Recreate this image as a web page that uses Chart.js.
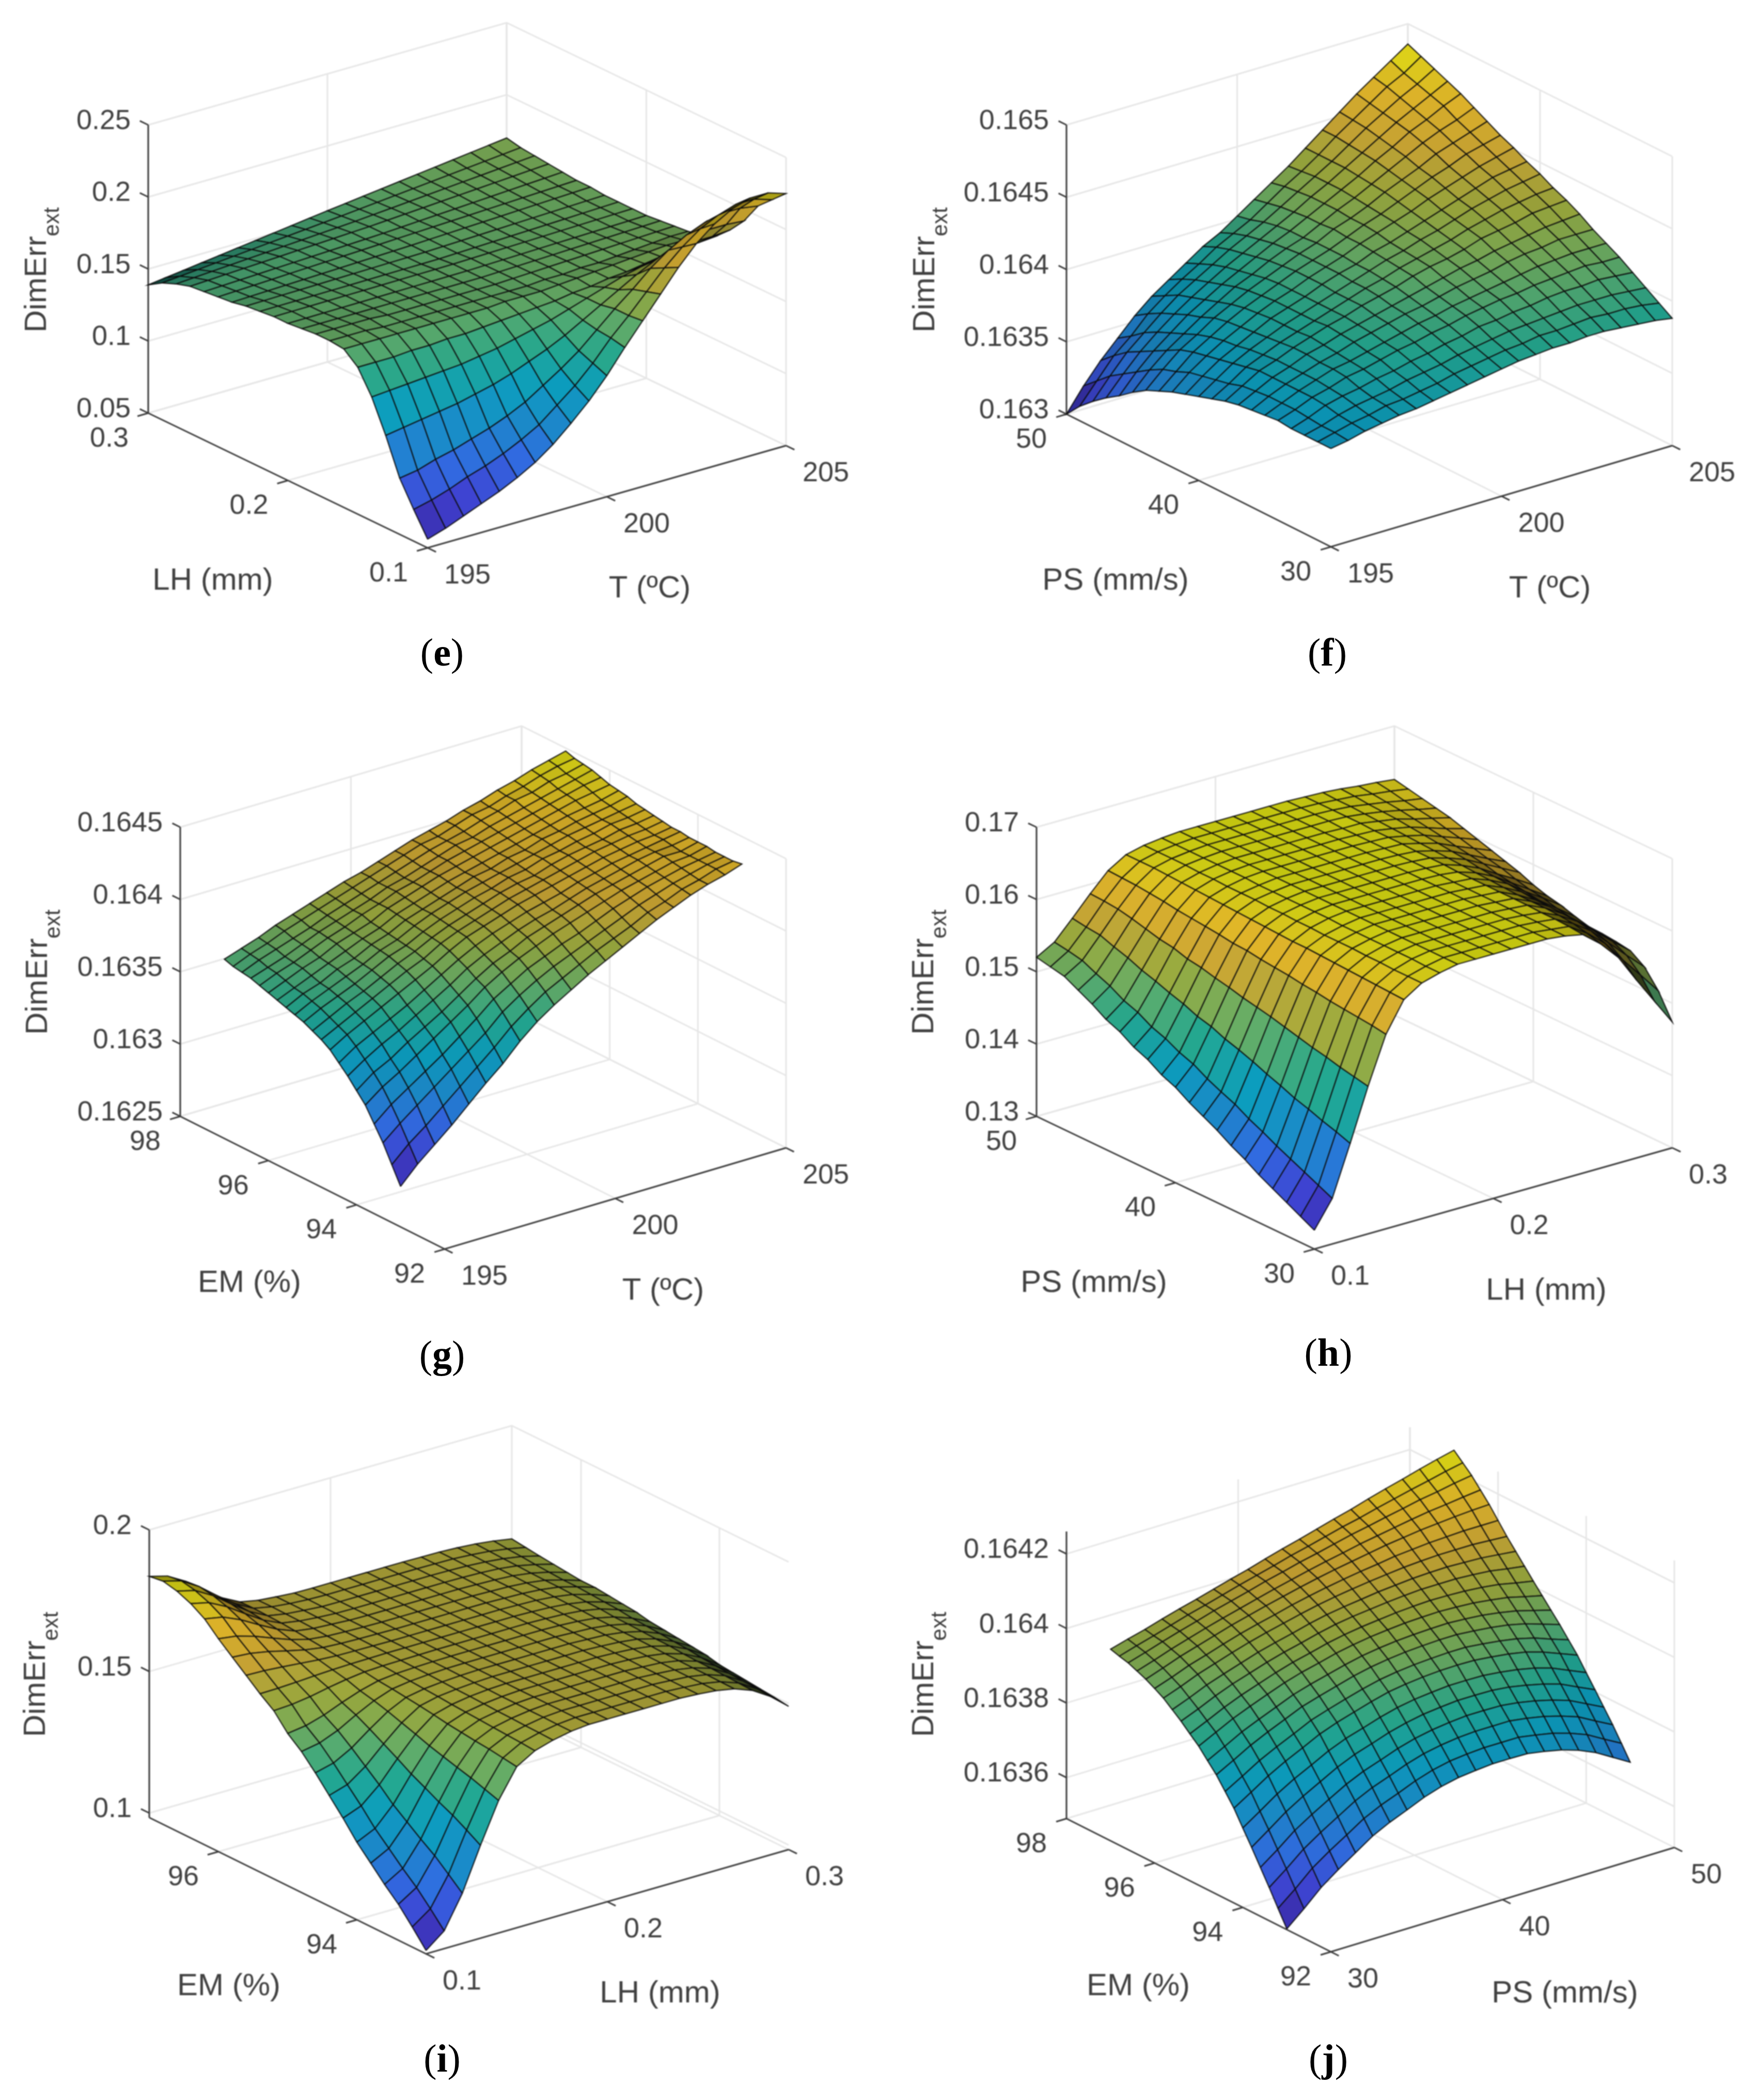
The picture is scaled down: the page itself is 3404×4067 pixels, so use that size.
<!DOCTYPE html>
<html>
<head>
<meta charset="utf-8">
<script src="https://cdn.jsdelivr.net/npm/chart.js@4"></script>
<style>
  body { margin: 0; background: #fff; }
  #page { position: relative; width: 3404px; height: 4067px; overflow: hidden; }
  canvas { position: absolute; filter: blur(0.8px); }
  .cap { position: absolute; font: 76px "Liberation Serif", serif; color: #000; transform: translate(-50%, -50%); }
</style>
</head>
<body>
<div id="page"></div>
<script>
const tempGrid = [195,195.5,196,196.5,197,197.5,198,198.5,199,199.5,200,200.5,201,201.5,202,202.5,203,203.5,204,204.5,205];
const lhGrid = [.10,.11,.12,.13,.14,.15,.16,.17,.18,.19,.20,.21,.22,.23,.24,.25,.26,.27,.28,.29,.30];
const psGrid = [30,31,32,33,34,35,36,37,38,39,40,41,42,43,44,45,46,47,48,49,50];
const emGrid = [93,93.2,93.4,93.6,93.8,94,94.2,94.4,94.6,94.8,95,95.2,95.4,95.6,95.8,96,96.2,96.4,96.6,96.8,97];

// z values, one row per y-axis value
const surfE = [
[.056,.060,.065,.070,.075,.081,.088,.097,.108,.120,.134,.150,.165,.180,.195,.208,.218,.225,.229,.229,.225],
[.072,.075,.079,.084,.088,.093,.099,.106,.116,.126,.138,.152,.164,.177,.190,.201,.210,.216,.220,.220,.216],
[.089,.091,.095,.098,.102,.106,.111,.117,.125,.133,.142,.153,.164,.174,.185,.194,.201,.206,.209,.209,.207],
[.114,.116,.118,.120,.122,.125,.128,.132,.137,.142,.148,.155,.162,.169,.176,.182,.187,.191,.193,.193,.192],
[.136,.137,.138,.139,.140,.141,.143,.145,.148,.151,.154,.158,.162,.166,.170,.173,.176,.178,.180,.180,.181],
[.152,.152,.152,.153,.153,.154,.154,.155,.156,.157,.158,.159,.161,.162,.164,.165,.167,.168,.170,.171,.172],
[.160,.160,.160,.160,.160,.160,.160,.160,.160,.161,.161,.161,.162,.163,.164,.165,.166,.167,.168,.168,.168],
[.161,.161,.161,.160,.160,.160,.160,.160,.160,.160,.160,.160,.161,.161,.162,.162,.163,.164,.165,.166,.166],
[.161,.161,.161,.161,.160,.160,.160,.160,.160,.160,.160,.1605,.161,.1615,.162,.1625,.163,.1635,.164,.1645,.165],
[.160,.160,.160,.160,.160,.160,.160,.160,.160,.160,.160,.1604,.1608,.1612,.1616,.162,.1624,.1628,.1632,.1636,.164],
[.159,.1591,.1592,.1593,.1594,.1595,.1596,.1597,.1598,.1599,.160,.1603,.1606,.1609,.1612,.1615,.1618,.1621,.1624,.1627,.163],
[.159,.1591,.1592,.1593,.1594,.1595,.1596,.1597,.1598,.1599,.160,.1603,.1606,.1609,.1612,.1615,.1618,.1621,.1624,.1627,.163],
[.158,.1581,.1582,.1583,.1584,.1585,.1586,.1587,.1588,.1589,.159,.1594,.1598,.1602,.1606,.161,.1614,.1618,.1622,.1626,.163],
[.157,.1572,.1574,.1576,.1578,.158,.1582,.1584,.1586,.1588,.159,.1594,.1598,.1602,.1606,.161,.1614,.1618,.1622,.1626,.163],
[.155,.1554,.1558,.1562,.1566,.157,.1574,.1578,.1582,.1586,.159,.1595,.16,.1605,.161,.1615,.162,.1625,.163,.1635,.164],
[.154,.1545,.155,.1555,.156,.1565,.157,.1575,.158,.1585,.159,.1595,.16,.1605,.161,.1615,.162,.1625,.163,.1635,.164],
[.153,.1535,.154,.1545,.155,.1555,.156,.1565,.157,.1575,.158,.1587,.1594,.1601,.1608,.1615,.1622,.1629,.1636,.1643,.165],
[.152,.1526,.1532,.1538,.1544,.155,.1556,.1562,.1568,.1574,.158,.1588,.1596,.1604,.1612,.162,.1628,.1636,.1644,.1652,.166],
[.149,.1498,.1506,.1514,.1522,.153,.1538,.1546,.1554,.1562,.157,.158,.159,.16,.161,.162,.163,.164,.165,.166,.167],
[.145,.1461,.1472,.1483,.1494,.1505,.1516,.1527,.1538,.1549,.156,.1572,.1584,.1596,.1608,.162,.1632,.1644,.1656,.1668,.168],
[.139,.1406,.1422,.1438,.1454,.147,.1486,.1502,.1518,.1534,.155,.1565,.158,.1595,.161,.1625,.164,.1655,.167,.1685,.170]
];
const surfF = [
[.16368,.16370,.16373,.16375,.16377,.16378,.16380,.16382,.16384,.16386,.16388,.16390,.16391,.16392,.16392,.16393,.16393,.16392,.16391,.16390,.16388],
[.16368,.16371,.16374,.16376,.16379,.16380,.16382,.16384,.16387,.16389,.16391,.16393,.16394,.16396,.16396,.16397,.16398,.16397,.16397,.16396,.16394],
[.16368,.16371,.16375,.16378,.16380,.16382,.16385,.16387,.16389,.16392,.16394,.16396,.16398,.16399,.16400,.16401,.16402,.16402,.16402,.16401,.16400],
[.16368,.16372,.16377,.16380,.16382,.16385,.16387,.16390,.16392,.16395,.16397,.16400,.16401,.16403,.16404,.16406,.16407,.16407,.16408,.16407,.16406],
[.16369,.16373,.16378,.16381,.16385,.16387,.16390,.16393,.16395,.16398,.16400,.16403,.16405,.16407,.16408,.16410,.16411,.16412,.16413,.16412,.16412],
[.16368,.16373,.16378,.16382,.16386,.16388,.16391,.16394,.16397,.16400,.16402,.16405,.16407,.16409,.16411,.16413,.16415,.16416,.16417,.16417,.16417],
[.16367,.16373,.16378,.16382,.16386,.16389,.16393,.16396,.16399,.16402,.16404,.16407,.16410,.16412,.16414,.16417,.16419,.16420,.16422,.16422,.16422],
[.16366,.16372,.16378,.16382,.16387,.16390,.16394,.16397,.16400,.16403,.16406,.16409,.16412,.16415,.16417,.16420,.16422,.16424,.16426,.16427,.16428],
[.16364,.16371,.16378,.16382,.16387,.16391,.16395,.16398,.16402,.16405,.16408,.16412,.16415,.16417,.16420,.16424,.16426,.16428,.16431,.16432,.16433],
[.16361,.16368,.16376,.16381,.16386,.16390,.16394,.16398,.16402,.16406,.16409,.16413,.16416,.16419,.16422,.16426,.16429,.16432,.16434,.16436,.16437],
[.16358,.16366,.16374,.16380,.16385,.16390,.16394,.16398,.16402,.16406,.16410,.16414,.16417,.16421,.16424,.16428,.16432,.16435,.16438,.16440,.16442],
[.16355,.16364,.16372,.16378,.16384,.16390,.16394,.16398,.16403,.16407,.16410,.16415,.16418,.16422,.16426,.16430,.16434,.16438,.16442,.16444,.16446],
[.16352,.16362,.16370,.16377,.16383,.16389,.16394,.16398,.16403,.16407,.16411,.16416,.16420,.16424,.16428,.16433,.16437,.16441,.16445,.16448,.16451],
[.16348,.16358,.16368,.16375,.16382,.16388,.16393,.16398,.16403,.16407,.16411,.16416,.16421,.16425,.16430,.16435,.16440,.16444,.16449,.16452,.16455],
[.16344,.16355,.16365,.16372,.16380,.16386,.16392,.16397,.16402,.16407,.16411,.16417,.16421,.16426,.16432,.16437,.16442,.16448,.16452,.16456,.16460],
[.16338,.16350,.16360,.16368,.16376,.16383,.16390,.16395,.16401,.16406,.16410,.16416,.16422,.16427,.16433,.16439,.16445,.16451,.16456,.16460,.16465],
[.16331,.16344,.16355,.16364,.16373,.16380,.16387,.16393,.16399,.16405,.16410,.16416,.16422,.16428,.16434,.16441,.16447,.16454,.16459,.16465,.16470],
[.16325,.16338,.16350,.16360,.16369,.16377,.16384,.16391,.16397,.16403,.16409,.16415,.16422,.16428,.16435,.16442,.16449,.16456,.16462,.16468,.16474],
[.16318,.16332,.16345,.16355,.16365,.16374,.16381,.16388,.16395,.16401,.16407,.16414,.16421,.16428,.16435,.16443,.16451,.16458,.16465,.16471,.16478],
[.16310,.16324,.16338,.16348,.16360,.16369,.16377,.16384,.16392,.16398,.16404,.16412,.16420,.16427,.16435,.16444,.16452,.16460,.16468,.16474,.16482],
[.16300,.16316,.16330,.16342,.16354,.16364,.16372,.16380,.16388,.16394,.16402,.16410,.16418,.16426,.16435,.16444,.16453,.16462,.16470,.16478,.16486]
];
const surfG = [
[.16278,.16290,.16300,.16310,.16321,.16332,.16342,.16354,.16364,.16372,.16379,.16386,.16392,.16398,.16404,.16410,.16415,.16420,.16424,.16427,.16431],
[.16290,.16301,.16310,.16320,.16330,.16340,.16350,.16361,.16370,.16378,.16384,.16390,.16396,.16401,.16406,.16412,.16416,.16421,.16424,.16428,.16430],
[.16302,.16312,.16321,.16330,.16339,.16348,.16357,.16368,.16376,.16383,.16389,.16394,.16399,.16404,.16409,.16414,.16418,.16422,.16425,.16428,.16430],
[.16312,.16322,.16330,.16338,.16346,.16355,.16364,.16374,.16381,.16388,.16393,.16398,.16402,.16407,.16412,.16416,.16420,.16423,.16426,.16428,.16430],
[.16322,.16331,.16338,.16346,.16354,.16362,.16370,.16379,.16386,.16392,.16397,.16402,.16406,.16410,.16414,.16418,.16421,.16424,.16427,.16428,.16431],
[.16329,.16338,.16344,.16352,.16359,.16366,.16374,.16382,.16389,.16394,.16400,.16404,.16408,.16412,.16416,.16419,.16422,.16425,.16428,.16428,.16431],
[.16336,.16344,.16351,.16357,.16364,.16371,.16378,.16386,.16392,.16397,.16402,.16406,.16409,.16413,.16417,.16420,.16423,.16426,.16428,.16429,.16431],
[.16342,.16350,.16356,.16362,.16368,.16375,.16382,.16389,.16395,.16400,.16404,.16408,.16411,.16414,.16418,.16421,.16424,.16426,.16428,.16430,.16432],
[.16348,.16355,.16361,.16367,.16373,.16379,.16385,.16392,.16398,.16402,.16406,.16410,.16413,.16416,.16419,.16422,.16425,.16427,.16429,.16430,.16432],
[.16352,.16358,.16364,.16370,.16376,.16382,.16387,.16394,.16399,.16403,.16407,.16411,.16414,.16417,.16420,.16423,.16426,.16428,.16430,.16431,.16433],
[.16355,.16361,.16367,.16372,.16378,.16384,.16389,.16395,.16400,.16404,.16408,.16412,.16415,.16417,.16421,.16424,.16426,.16428,.16431,.16432,.16434],
[.16358,.16364,.16369,.16374,.16380,.16386,.16390,.16396,.16401,.16405,.16409,.16412,.16416,.16418,.16422,.16424,.16427,.16429,.16432,.16433,.16435],
[.16360,.16366,.16371,.16376,.16381,.16387,.16391,.16397,.16402,.16406,.16410,.16413,.16416,.16419,.16422,.16425,.16428,.16430,.16432,.16434,.16436],
[.16362,.16368,.16372,.16378,.16382,.16388,.16392,.16398,.16402,.16406,.16410,.16414,.16416,.16420,.16422,.16426,.16428,.16431,.16433,.16435,.16438],
[.16364,.16369,.16374,.16379,.16384,.16389,.16393,.16399,.16403,.16407,.16411,.16414,.16417,.16420,.16423,.16426,.16429,.16432,.16434,.16436,.16439],
[.16366,.16371,.16376,.16380,.16386,.16390,.16394,.16400,.16404,.16408,.16412,.16415,.16418,.16421,.16424,.16427,.16430,.16433,.16436,.16438,.16440],
[.16368,.16373,.16377,.16382,.16387,.16391,.16396,.16400,.16405,.16408,.16412,.16416,.16419,.16422,.16425,.16428,.16431,.16434,.16437,.16440,.16442],
[.16370,.16374,.16378,.16383,.16388,.16392,.16396,.16400,.16405,.16408,.16412,.16416,.16420,.16422,.16426,.16429,.16432,.16435,.16438,.16441,.16444],
[.16371,.16376,.16380,.16384,.16388,.16393,.16397,.16401,.16405,.16409,.16413,.16417,.16420,.16423,.16427,.16430,.16434,.16436,.16440,.16442,.16445],
[.16372,.16377,.16381,.16386,.16390,.16394,.16398,.16402,.16406,.16410,.16414,.16418,.16420,.16424,.16428,.16430,.16434,.16437,.16441,.16444,.16446],
[.16374,.16378,.16382,.16387,.16391,.16395,.16399,.16403,.16406,.16410,.16414,.16418,.16421,.16424,.16428,.16431,.16435,.16438,.16442,.16445,.16448]
];
const surfH = [
[.1326,.1363,.1432,.1504,.1569,.1610,.1626,.1633,.1638,.1638,.1638,.1638,.1638,.1638,.1635,.1630,.1610,.1584,.1546,.1510,.1474],
[.1336,.1372,.1439,.1508,.1572,.1611,.1626,.1633,.1638,.1638,.1638,.1638,.1638,.1638,.1635,.1632,.1616,.1595,.1565,.1537,.1508],
[.1346,.1381,.1445,.1512,.1574,.1612,.1626,.1634,.1638,.1638,.1638,.1638,.1638,.1638,.1636,.1633,.1620,.1603,.1579,.1555,.1532],
[.1356,.1390,.1452,.1517,.1576,.1613,.1627,.1634,.1638,.1638,.1638,.1638,.1638,.1638,.1636,.1633,.1622,.1607,.1586,.1565,.1545],
[.1366,.1399,.1458,.1521,.1578,.1614,.1627,.1634,.1638,.1638,.1638,.1638,.1638,.1638,.1636,.1634,.1623,.1608,.1588,.1568,.1548],
[.1378,.1409,.1466,.1526,.1581,.1615,.1628,.1634,.1638,.1638,.1638,.1638,.1638,.1638,.1636,.1634,.1623,.1609,.1589,.1569,.1550],
[.1388,.1418,.1473,.1531,.1583,.1616,.1628,.1634,.1638,.1638,.1638,.1638,.1638,.1638,.1636,.1634,.1623,.1609,.1589,.1570,.1551],
[.1400,.1429,.1481,.1536,.1586,.1617,.1628,.1634,.1638,.1638,.1638,.1638,.1638,.1638,.1636,.1634,.1624,.1611,.1592,.1574,.1556],
[.1410,.1437,.1488,.1540,.1588,.1617,.1629,.1635,.1638,.1638,.1638,.1638,.1638,.1638,.1636,.1634,.1625,.1613,.1595,.1579,.1562],
[.1420,.1446,.1494,.1544,.1590,.1618,.1629,.1635,.1638,.1638,.1638,.1638,.1638,.1638,.1637,.1634,.1626,.1614,.1598,.1582,.1566],
[.1432,.1457,.1502,.1549,.1593,.1619,.1630,.1635,.1638,.1638,.1638,.1638,.1638,.1638,.1637,.1635,.1627,.1616,.1601,.1587,.1572],
[.1440,.1464,.1507,.1553,.1594,.1620,.1630,.1635,.1638,.1638,.1638,.1638,.1638,.1638,.1637,.1635,.1628,.1619,.1606,.1593,.1580],
[.1452,.1474,.1515,.1558,.1597,.1621,.1631,.1635,.1638,.1638,.1638,.1638,.1638,.1638,.1637,.1635,.1629,.1621,.1609,.1597,.1586],
[.1460,.1481,.1521,.1561,.1599,.1622,.1631,.1635,.1638,.1638,.1638,.1638,.1638,.1638,.1637,.1636,.1630,.1623,.1612,.1602,.1592],
[.1472,.1492,.1528,.1567,.1601,.1623,.1631,.1636,.1638,.1638,.1638,.1638,.1638,.1638,.1637,.1636,.1631,.1625,.1616,.1607,.1598],
[.1480,.1499,.1534,.1570,.1603,.1624,.1632,.1636,.1638,.1638,.1638,.1638,.1638,.1638,.1637,.1636,.1632,.1627,.1619,.1611,.1604],
[.1492,.1510,.1542,.1575,.1606,.1625,.1632,.1636,.1638,.1638,.1638,.1638,.1638,.1638,.1637,.1637,.1633,.1629,.1622,.1616,.1610],
[.1502,.1518,.1548,.1580,.1608,.1626,.1633,.1636,.1638,.1638,.1638,.1638,.1638,.1638,.1638,.1637,.1634,.1630,.1625,.1619,.1614],
[.1512,.1527,.1555,.1584,.1610,.1627,.1633,.1636,.1638,.1638,.1638,.1638,.1638,.1638,.1638,.1637,.1635,.1631,.1627,.1622,.1618],
[.1516,.1531,.1557,.1586,.1611,.1627,.1633,.1636,.1638,.1638,.1638,.1638,.1638,.1638,.1638,.1637,.1635,.1633,.1629,.1626,.1622],
[.1520,.1534,.1560,.1587,.1612,.1627,.1633,.1636,.1638,.1638,.1638,.1638,.1638,.1638,.1638,.1637,.1636,.1634,.1631,.1629,.1626]
];
const surfI = [
[.0996,.1047,.1161,.1312,.1452,.1553,.1591,.1610,.1623,.1629,.1629,.1629,.1629,.1629,.1629,.1625,.1619,.1607,.1583,.1543,.1490],
[.1055,.1101,.1204,.1342,.1468,.1560,.1595,.1612,.1623,.1629,.1629,.1629,.1629,.1629,.1629,.1625,.1620,.1608,.1585,.1547,.1497],
[.1111,.1152,.1246,.1370,.1484,.1567,.1598,.1613,.1624,.1629,.1629,.1629,.1629,.1629,.1629,.1625,.1620,.1609,.1587,.1550,.1502],
[.1157,.1195,.1280,.1393,.1497,.1572,.1601,.1615,.1624,.1629,.1629,.1629,.1629,.1629,.1629,.1625,.1620,.1609,.1589,.1553,.1507],
[.1208,.1242,.1317,.1419,.1511,.1578,.1604,.1616,.1625,.1629,.1629,.1629,.1629,.1629,.1629,.1625,.1621,.1610,.1590,.1556,.1512],
[.1258,.1288,.1354,.1444,.1525,.1584,.1607,.1618,.1625,.1629,.1629,.1629,.1629,.1629,.1629,.1626,.1621,.1611,.1592,.1560,.1517],
[.1319,.1344,.1400,.1474,.1542,.1592,.1610,.1620,.1626,.1629,.1629,.1629,.1629,.1629,.1629,.1626,.1622,.1613,.1596,.1566,.1528],
[.1375,.1395,.1441,.1502,.1558,.1599,.1614,.1621,.1626,.1629,.1629,.1629,.1629,.1629,.1629,.1626,.1622,.1614,.1597,.1569,.1533],
[.1431,.1447,.1482,.1530,.1574,.1605,.1617,.1623,.1627,.1629,.1629,.1629,.1629,.1629,.1629,.1626,.1623,.1614,.1599,.1573,.1538],
[.1482,.1494,.1520,.1556,.1588,.1611,.1620,.1625,.1628,.1629,.1629,.1629,.1629,.1629,.1629,.1626,.1623,.1615,.1601,.1576,.1543],
[.1522,.1531,.1550,.1576,.1599,.1616,.1623,.1626,.1628,.1629,.1629,.1629,.1629,.1629,.1629,.1627,.1623,.1616,.1602,.1579,.1548],
[.1578,.1582,.1591,.1604,.1615,.1623,.1626,.1627,.1628,.1629,.1629,.1629,.1629,.1629,.1629,.1627,.1624,.1618,.1606,.1585,.1558],
[.1614,.1615,.1618,.1622,.1625,.1627,.1628,.1629,.1629,.1629,.1629,.1629,.1629,.1629,.1629,.1627,.1624,.1618,.1607,.1588,.1563],
[.1655,.1653,.1648,.1642,.1636,.1632,.1631,.1630,.1629,.1629,.1629,.1629,.1629,.1629,.1629,.1627,.1625,.1619,.1609,.1591,.1568],
[.1695,.1690,.1678,.1662,.1647,.1637,.1633,.1631,.1630,.1629,.1629,.1629,.1629,.1629,.1629,.1627,.1625,.1620,.1611,.1594,.1573],
[.1736,.1727,.1708,.1683,.1659,.1642,.1635,.1632,.1630,.1629,.1629,.1629,.1629,.1629,.1629,.1627,.1625,.1620,.1611,.1594,.1573],
[.1782,.1770,.1742,.1706,.1672,.1647,.1638,.1634,.1630,.1629,.1629,.1629,.1629,.1629,.1629,.1627,.1625,.1621,.1612,.1597,.1578],
[.1812,.1797,.1764,.1721,.1680,.1651,.1640,.1634,.1630,.1629,.1629,.1629,.1629,.1629,.1629,.1628,.1626,.1622,.1614,.1600,.1583],
[.1832,.1816,.1779,.1731,.1686,.1653,.1641,.1635,.1630,.1629,.1629,.1629,.1629,.1629,.1629,.1628,.1626,.1622,.1615,.1604,.1588],
[.1843,.1826,.1787,.1736,.1689,.1655,.1642,.1635,.1631,.1629,.1629,.1629,.1629,.1629,.1629,.1628,.1627,.1623,.1617,.1607,.1594],
[.1836,.1819,.1782,.1733,.1687,.1654,.1641,.1635,.1630,.1629,.1629,.1629,.1629,.1629,.1629,.1628,.1627,.1624,.1619,.1611,.1600]
];
const surfJ = [
[.163492,.163532,.163575,.163609,.163640,.163671,.163694,.163713,.163733,.163748,.163758,.163763,.163767,.163767,.163766,.163758,.163748,.163733,.163713,.163686,.163659],
[.163535,.163573,.163615,.163647,.163676,.163706,.163728,.163746,.163765,.163780,.163790,.163795,.163798,.163798,.163798,.163790,.163781,.163767,.163749,.163723,.163698],
[.163579,.163615,.163654,.163685,.163713,.163741,.163763,.163780,.163798,.163812,.163821,.163827,.163830,.163830,.163830,.163823,.163814,.163801,.163785,.163760,.163736],
[.163621,.163655,.163692,.163721,.163748,.163774,.163795,.163811,.163828,.163841,.163850,.163856,.163860,.163860,.163859,.163853,.163844,.163832,.163817,.163794,.163771],
[.163663,.163696,.163730,.163758,.163783,.163808,.163828,.163843,.163859,.163871,.163880,.163885,.163889,.163889,.163888,.163883,.163874,.163863,.163849,.163827,.163806],
[.163703,.163734,.163766,.163793,.163816,.163840,.163859,.163873,.163888,.163900,.163908,.163913,.163917,.163917,.163916,.163911,.163904,.163894,.163880,.163860,.163840],
[.163744,.163773,.163803,.163828,.163850,.163873,.163890,.163904,.163918,.163930,.163937,.163942,.163945,.163946,.163945,.163940,.163934,.163925,.163911,.163893,.163875],
[.163777,.163804,.163832,.163855,.163876,.163898,.163913,.163927,.163940,.163951,.163958,.163963,.163966,.163968,.163968,.163963,.163957,.163949,.163937,.163920,.163904],
[.163810,.163835,.163861,.163883,.163903,.163923,.163937,.163950,.163963,.163973,.163980,.163985,.163988,.163990,.163990,.163986,.163981,.163974,.163963,.163948,.163933],
[.163836,.163860,.163885,.163905,.163924,.163943,.163957,.163969,.163981,.163991,.163998,.164003,.164006,.164008,.164009,.164006,.164002,.163995,.163986,.163973,.163960],
[.163863,.163886,.163909,.163928,.163946,.163963,.163977,.163988,.164000,.164009,.164016,.164021,.164025,.164027,.164028,.164026,.164023,.164017,.164010,.163998,.163987],
[.163884,.163905,.163927,.163946,.163962,.163978,.163992,.164003,.164015,.164024,.164031,.164036,.164041,.164044,.164046,.164045,.164043,.164039,.164033,.164023,.164014],
[.163906,.163925,.163946,.163964,.163979,.163994,.164007,.164018,.164030,.164040,.164047,.164052,.164057,.164061,.164064,.164064,.164064,.164061,.164057,.164049,.164042],
[.163925,.163943,.163963,.163979,.163994,.164009,.164021,.164032,.164044,.164054,.164061,.164067,.164073,.164077,.164081,.164083,.164084,.164082,.164080,.164075,.164070],
[.163944,.163961,.163980,.163995,.164010,.164024,.164036,.164047,.164058,.164068,.164076,.164083,.164089,.164094,.164099,.164102,.164104,.164104,.164104,.164101,.164098],
[.163958,.163974,.163992,.164006,.164021,.164035,.164047,.164058,.164070,.164080,.164089,.164097,.164104,.164110,.164117,.164121,.164125,.164127,.164129,.164129,.164129],
[.163971,.163987,.164004,.164018,.164032,.164046,.164058,.164070,.164081,.164092,.164102,.164111,.164119,.164127,.164135,.164141,.164147,.164151,.164155,.164158,.164160],
[.163981,.163996,.164012,.164026,.164040,.164053,.164065,.164077,.164089,.164100,.164111,.164121,.164130,.164140,.164148,.164156,.164164,.164171,.164176,.164182,.164187],
[.163991,.164005,.164020,.164034,.164047,.164061,.164073,.164085,.164098,.164109,.164121,.164131,.164142,.164153,.164162,.164172,.164181,.164191,.164198,.164207,.164214],
[.163997,.164011,.164024,.164038,.164052,.164064,.164077,.164090,.164102,.164114,.164127,.164138,.164150,.164162,.164172,.164184,.164195,.164206,.164216,.164227,.164236],
[.164004,.164017,.164029,.164043,.164056,.164068,.164081,.164094,.164106,.164120,.164133,.164145,.164158,.164171,.164183,.164197,.164210,.164222,.164235,.164247,.164258]
];

const parulaStops = [[62,38,168],[70,72,232],[54,119,249],[30,152,222],[13,174,210],[39,186,160],[110,192,116],[172,190,70],[228,186,58],[254,205,46],[249,251,21]];

// box: F front corner, R and L ends of the two floor axes, H height of the z axis (canvas px)
const panels = [
  { id: 'e', left: 0, top: 0, xGrid: tempGrid, yGrid: lhGrid, zGrid: surfE,
    xLim: [195, 205], yLim: [.1, .3], zLim: [.05, .25],
    xTicks: ['195','200','205'], yTicks: ['0.1','0.2','0.3'], zTicks: ['0.05','0.1','0.15','0.2','0.25'],
    xLabel: 'T (ºC)', yLabel: 'LH (mm)',
    F: [828,1061], R: [1522,863], L: [287,800], H: 558,
    xLabelAt: [1258,1140], yLabelAt: [412,1125], zLabelAt: [89,644], capAt: [856,1263] },
  { id: 'f', left: 1700, top: 0, xGrid: tempGrid, yGrid: psGrid, zGrid: surfF,
    xLim: [195, 205], yLim: [30, 50], zLim: [.163, .165],
    xTicks: ['195','200','205'], yTicks: ['30','40','50'], zTicks: ['0.163','0.1635','0.164','0.1645','0.165'],
    xLabel: 'T (ºC)', yLabel: 'PS (mm/s)',
    F: [877,1059], R: [1538,863], L: [365,802], H: 560,
    xLabelAt: [1301,1140], yLabelAt: [460,1125], zLabelAt: [109,644], capAt: [870,1263] },
  { id: 'g', left: 0, top: 1360, xGrid: tempGrid, yGrid: emGrid, zGrid: surfG,
    xLim: [195, 205], yLim: [92, 98], zLim: [.1625, .1645],
    xTicks: ['195','200','205'], yTicks: ['92','94','96','98'], zTicks: ['0.1625','0.163','0.1635','0.164','0.1645'],
    xLabel: 'T (ºC)', yLabel: 'EM (%)',
    F: [861,1059], R: [1522,863], L: [349,802], H: 560,
    xLabelAt: [1284,1140], yLabelAt: [483,1125], zLabelAt: [91,644], capAt: [856,1263] },
  { id: 'h', left: 1700, top: 1360, xGrid: lhGrid, yGrid: psGrid, zGrid: surfH,
    xLim: [.1, .3], yLim: [30, 50], zLim: [.13, .17],
    xTicks: ['0.1','0.2','0.3'], yTicks: ['30','40','50'], zTicks: ['0.13','0.14','0.15','0.16','0.17'],
    xLabel: 'LH (mm)', yLabel: 'PS (mm/s)',
    F: [845,1059], R: [1538,863], L: [307,802], H: 560,
    xLabelAt: [1294,1140], yLabelAt: [418,1125], zLabelAt: [107,644], capAt: [872,1259] },
  { id: 'i', left: 0, top: 2720, xGrid: lhGrid, yGrid: emGrid, zGrid: surfI,
    xLim: [.1, .3], yLim: [93, 97], zLim: [.0984, .2],
    xTicks: ['0.1','0.2','0.3'], yTicks: ['94','96'], zTicks: ['0.1','0.15','0.2'],
    xLabel: 'LH (mm)', yLabel: 'EM (%)',
    F: [825,1064], R: [1527,862], L: [289,800], H: 557,
    xLabelAt: [1278,1141], yLabelAt: [443,1127], zLabelAt: [87,644], capAt: [856,1266] },
  { id: 'j', left: 1700, top: 2720, xGrid: psGrid, yGrid: emGrid, zGrid: surfJ,
    xLim: [30, 50], yLim: [92, 98], zLim: [.16349, .16426],
    xTicks: ['30','40','50'], yTicks: ['92','94','96','98'], zTicks: ['0.1636','0.1638','0.164','0.1642'],
    xLabel: 'PS (mm/s)', yLabel: 'EM (%)',
    F: [877,1060], R: [1542,858], L: [365,802], H: 556,
    xLabelAt: [1330,1141], yLabelAt: [504,1127], zLabelAt: [107,644], capAt: [872,1266] }
];

const canvasW = 1704, canvasH = 1347;
const gridColor = '#e6e6e6', axisColor = '#3a3a3a', textColor = '#404040';
const tickFont = '54px "Liberation Sans"', labelFont = '60px "Liberation Sans"', subFont = '42px "Liberation Sans"';

// the source mesh is finer than these cells, so tight cells read darker
function meshShade(a, b, d) {
  const ux = b.x - a.x, uy = b.y - a.y, vx = d.x - a.x, vy = d.y - a.y;
  const area = Math.abs(ux * vy - uy * vx) + 1;
  const lenU = Math.hypot(ux, uy) + 1, lenV = Math.hypot(vx, vy) + 1;
  const s = (1 - Math.min(0.7, 2.4 * lenV / area)) * (1 - Math.min(0.7, 2.4 * lenU / area));
  return Math.max(0.3, s);
}

function parula(t, shade) {
  const s = Math.min(Math.max(t, 0), 1) * (parulaStops.length - 1);
  const k = Math.min(Math.floor(s), parulaStops.length - 2);
  const f = s - k;
  const c = parulaStops[k].map((v, n) => Math.round((v + (parulaStops[k + 1][n] - v) * f) * shade));
  return `rgb(${c[0]},${c[1]},${c[2]})`;
}

function projector(p) {
  const span = (lim, v) => (v - lim[0]) / (lim[1] - lim[0]);
  return (xv, yv, zv) => {
    const u = span(p.xLim, xv), v = span(p.yLim, yv), w = span(p.zLim, zv);
    return {
      x: p.F[0] + u * (p.R[0] - p.F[0]) + v * (p.L[0] - p.F[0]),
      y: p.F[1] + u * (p.R[1] - p.F[1]) + v * (p.L[1] - p.F[1]) - w * p.H
    };
  };
}

function lineSet(points, color, width) {
  return { data: points, showLine: true, fill: false, pointRadius: 0, borderColor: color, borderWidth: width, tension: 0 };
}

function buildDatasets(p) {
  const at = projector(p);
  const [x0, x1] = p.xLim, [y0, y1] = p.yLim, [z0, z1] = p.zLim;
  const flat = p.zGrid.flat();
  const zMin = Math.min(...flat), zMax = Math.max(...flat);

  // nearest cell goes first: chart.js paints the dataset list back to front
  const cells = [];
  for (let j = 0; j < p.yGrid.length - 1; j++) {
    for (let i = 0; i < p.xGrid.length - 1; i++) {
      const zs = [p.zGrid[j][i], p.zGrid[j][i + 1], p.zGrid[j + 1][i + 1], p.zGrid[j + 1][i]];
      const mean = (zs[0] + zs[1] + zs[2] + zs[3]) / 4;
      const a = at(p.xGrid[i], p.yGrid[j], zs[0]), b = at(p.xGrid[i + 1], p.yGrid[j], zs[1]);
      const c = at(p.xGrid[i + 1], p.yGrid[j + 1], zs[2]), d = at(p.xGrid[i], p.yGrid[j + 1], zs[3]);
      cells.push({
        rank: i + j,
        set: {
          data: [a, b, c, d, a],
          showLine: true, fill: 'shape', pointRadius: 0, tension: 0,
          backgroundColor: parula((mean - zMin) / (zMax - zMin), meshShade(a, b, d)),
          borderColor: '#0c0c0c', borderWidth: 2
        }
      });
    }
  }
  cells.sort((a, b) => a.rank - b.rank);

  const axes = [
    lineSet([at(x0, y1, z0), at(x0, y0, z0), at(x1, y0, z0)], axisColor, 3),
    lineSet([at(x0, y1, z0), at(x0, y1, z1)], axisColor, 3)
  ];
  const tickLen = 0.03;
  const xStep = (x1 - x0) * tickLen, yStep = (y1 - y0) * tickLen;
  p.xTicks.map(Number).forEach(t => axes.push(lineSet([at(t, y0, z0), at(t, y0 - yStep, z0)], axisColor, 3)));
  p.yTicks.map(Number).forEach(t => axes.push(lineSet([at(x0, t, z0), at(x0 - xStep, t, z0)], axisColor, 3)));
  p.zTicks.map(Number).forEach(t => axes.push(lineSet([at(x0, y1, t), at(x0, y1 + yStep, t)], axisColor, 3)));

  const grid = [];
  p.xTicks.map(Number).forEach(t => grid.push(lineSet([at(t, y0, z0), at(t, y1, z0), at(t, y1, z1)], gridColor, 3)));
  p.yTicks.map(Number).forEach(t => grid.push(lineSet([at(x0, t, z0), at(x1, t, z0), at(x1, t, z1)], gridColor, 3)));
  p.zTicks.map(Number).forEach(t => grid.push(lineSet([at(x0, y1, t), at(x1, y1, t), at(x1, y0, t)], gridColor, 3)));

  return [...cells.map(c => c.set), ...axes, ...grid];
}

const axisText = {
  id: 'axisText',
  afterDatasetsDraw(chart, args, opts) {
    const p = opts.panel, ctx = chart.ctx, at = projector(p);
    const sx = chart.scales.x, sy = chart.scales.y;
    const px = pt => [sx.getPixelForValue(pt.x), sy.getPixelForValue(pt.y)];
    ctx.save();
    ctx.fillStyle = textColor;
    ctx.textBaseline = 'middle';
    ctx.font = tickFont;
    ctx.textAlign = 'right';
    p.zTicks.forEach(t => {
      const [a, b] = px(at(p.xLim[0], p.yLim[1], Number(t)));
      ctx.fillText(t, a - 34, b - 7);
    });
    p.yTicks.forEach(t => {
      const [a, b] = px(at(p.xLim[0], Number(t), p.zLim[0]));
      ctx.fillText(t, a - 38, b + 50);
    });
    ctx.textAlign = 'left';
    p.xTicks.forEach(t => {
      const [a, b] = px(at(Number(t), p.yLim[0], p.zLim[0]));
      ctx.fillText(t, a + 32, b + 54);
    });
    ctx.font = labelFont;
    ctx.textAlign = 'center';
    ctx.fillText(p.xLabel, p.xLabelAt[0], p.xLabelAt[1]);
    ctx.fillText(p.yLabel, p.yLabelAt[0], p.yLabelAt[1]);

    ctx.translate(p.zLabelAt[0], p.zLabelAt[1]);
    ctx.rotate(-Math.PI / 2);
    ctx.textAlign = 'left';
    ctx.textBaseline = 'alphabetic';
    ctx.fillText('DimErr', 0, 0);
    const w = ctx.measureText('DimErr').width;
    ctx.font = subFont;
    ctx.fillText('ext', w, 25);
    ctx.restore();
  }
};

const page = document.getElementById('page');
panels.forEach(p => {
  const canvas = document.createElement('canvas');
  canvas.width = canvasW;
  canvas.height = canvasH;
  canvas.style.left = p.left + 'px';
  canvas.style.top = p.top + 'px';
  page.appendChild(canvas);

  new Chart(canvas.getContext('2d'), {
    type: 'scatter',
    data: { datasets: buildDatasets(p) },
    options: {
      responsive: false,
      animation: false,
      events: [],
      layout: { padding: 0 },
      scales: {
        x: { type: 'linear', display: false, min: 0, max: canvasW },
        y: { type: 'linear', display: false, min: 0, max: canvasH, reverse: true }
      },
      plugins: { legend: { display: false }, tooltip: { enabled: false }, axisText: { panel: p } }
    },
    plugins: [axisText]
  });

  const cap = document.createElement('div');
  cap.className = 'cap';
  cap.style.left = (p.left + p.capAt[0]) + 'px';
  cap.style.top = (p.top + p.capAt[1]) + 'px';
  cap.innerHTML = '(<b>' + p.id + '</b>)';
  page.appendChild(cap);
});
</script>
</body>
</html>
